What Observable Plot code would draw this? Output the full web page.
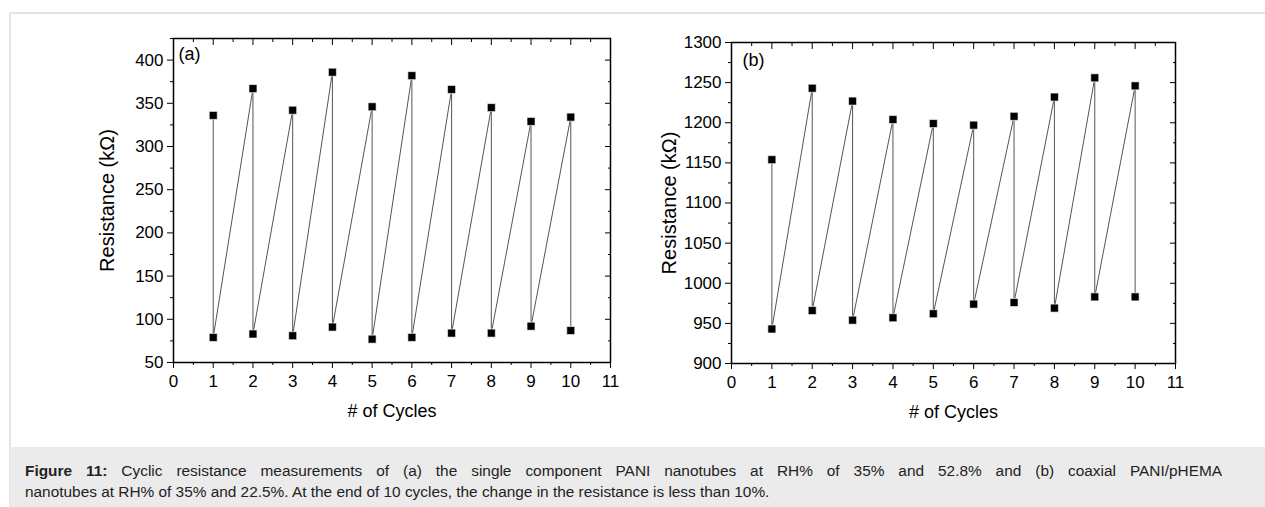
<!DOCTYPE html>
<html>
<head>
<meta charset="utf-8">
<script src="https://cdn.jsdelivr.net/npm/d3@7"></script>
<script src="https://cdn.jsdelivr.net/npm/@observablehq/plot@0.6"></script>
<style>
  html, body { margin: 0; padding: 0; background: #fff; }
  #page { position: relative; width: 1265px; height: 507px; overflow: hidden; font-family: "Liberation Sans", Arial, sans-serif; }
  #box { position: absolute; left: 9px; top: 12px; width: 1300px; height: 520px; border-top: 2px solid #e4e4e4; border-left: 2px solid #e4e4e4; box-sizing: border-box; }
  #caption { position: absolute; left: 10px; top: 447px; width: 1300px; height: 80px; background: #ebebeb; box-sizing: border-box; padding: 13px 0 0 15px; font-size: 15.4px; line-height: 21px; color: #222; }
  #cap1 { width: 1197px; text-align: justify; text-align-last: justify; }
  .panel { position: absolute; top: 0; }
  .panel svg { overflow: visible; }
</style>
</head>
<body>
<div id="page">
  <div id="box"></div>
  <div id="caption"><div id="cap1"><b>Figure 11:</b> Cyclic resistance measurements of (a) the single component PANI nanotubes at RH% of 35% and 52.8% and (b) coaxial PANI/pHEMA</div><div>nanotubes at RH% of 35% and 22.5%. At the end of 10 cycles, the change in the resistance is less than 10%.</div></div>
  <div id="pa" class="panel" style="left:0px"></div>
  <div id="pb" class="panel" style="left:560px"></div>
</div>
<script>
// Data
const cycles = [1, 2, 3, 4, 5, 6, 7, 8, 9, 10];
const topA = [336, 367, 342, 386, 346, 382, 366, 345, 329, 334];
const botA = [79, 83, 81, 91, 77, 79, 84, 84, 92, 87];
const topB = [1154, 1243, 1227, 1204, 1199, 1197, 1208, 1232, 1256, 1246];
const botB = [943, 966, 954, 957, 962, 974, 976, 969, 983, 983];
const xMajor = [0, 1, 2, 3, 4, 5, 6, 7, 8, 9, 10, 11];
const xMinor = [0.5, 1.5, 2.5, 3.5, 4.5, 5.5, 6.5, 7.5, 8.5, 9.5, 10.5];
const yMajorA = [50, 100, 150, 200, 250, 300, 350, 400];
const yMinorA = [75, 125, 175, 225, 275, 325, 375, 425];
const yMajorB = [900, 950, 1000, 1050, 1100, 1150, 1200, 1250, 1300];
const yMinorB = [925, 975, 1025, 1075, 1125, 1175, 1225, 1275];
const yTitle = "Resistance (kΩ)";
const xTitle = "# of Cycles";

function panel(tops, bots, yDomain, yMajor, yMinor, tag, o) {
  const pts = cycles.flatMap((c, i) => [{c, r: tops[i]}, {c, r: bots[i]}]);
  const blank = () => "";
  const fmt = d => String(d);
  const fs = 17;
  return Plot.plot({
    width: o.width, height: 430,
    marginLeft: o.ml, marginRight: o.mr, marginTop: o.mt, marginBottom: o.mb,
    x: {domain: [0, 11]},
    y: {domain: yDomain},
    style: {background: "transparent", fontFamily: "'Liberation Sans', Arial, sans-serif", fontSize: "17px", color: "black"},
    marks: [
      Plot.axisX({anchor: "bottom", ticks: xMajor, tickSize: 6, tickPadding: 6, label: null, tickFormat: fmt, fontSize: fs}),
      Plot.axisX({anchor: "bottom", ticks: xMinor, tickSize: 3, label: null, tickFormat: blank}),
      Plot.axisX({anchor: "top", ticks: xMajor, tickSize: -6, label: null, tickFormat: blank}),
      Plot.axisX({anchor: "top", ticks: xMinor, tickSize: -3, label: null, tickFormat: blank}),
      Plot.axisY({anchor: "left", ticks: yMajor, tickSize: 6, tickPadding: 4, label: null, tickFormat: fmt, fontSize: fs}),
      Plot.axisY({anchor: "left", ticks: yMinor, tickSize: 3, label: null, tickFormat: blank}),
      Plot.axisY({anchor: "right", ticks: yMajor, tickSize: -6, label: null, tickFormat: blank}),
      Plot.axisY({anchor: "right", ticks: yMinor, tickSize: -3, label: null, tickFormat: blank}),
      Plot.line(pts, {x: "c", y: "r", stroke: "#555", strokeWidth: 1}),
      Plot.dot(pts, {x: "c", y: "r", symbol: "square", fill: "black", stroke: "white", strokeWidth: 0.6, r: 4.5}),
      Plot.frame({stroke: "black", strokeWidth: 1.5}),
      Plot.text([tag], {frameAnchor: "top-left", textAnchor: "start", lineAnchor: "top", dx: o.tagDx, dy: o.tagDy, fontSize: 18}),
      Plot.text([yTitle], {frameAnchor: "left", textAnchor: "middle", lineAnchor: "middle", rotate: -90, dx: o.yTitleDx, fontSize: 20}),
      Plot.text([xTitle], {frameAnchor: "bottom", textAnchor: "middle", lineAnchor: "middle", dy: 49, fontSize: 18})
    ]
  });
}

document.getElementById("pa").append(panel(topA, botA, [50, 425], yMajorA, yMinorA, "(a)",
  {width: 640, ml: 173, mr: 30, mt: 38, mb: 68, tagDx: 5, tagDy: 9, yTitleDx: -66}));
document.getElementById("pb").append(panel(topB, botB, [900, 1300], yMajorB, yMinorB, "(b)",
  {width: 660, ml: 171, mr: 45, mt: 42, mb: 67, tagDx: 11, tagDy: 11, yTitleDx: -62}));
</script>
</body>
</html>
